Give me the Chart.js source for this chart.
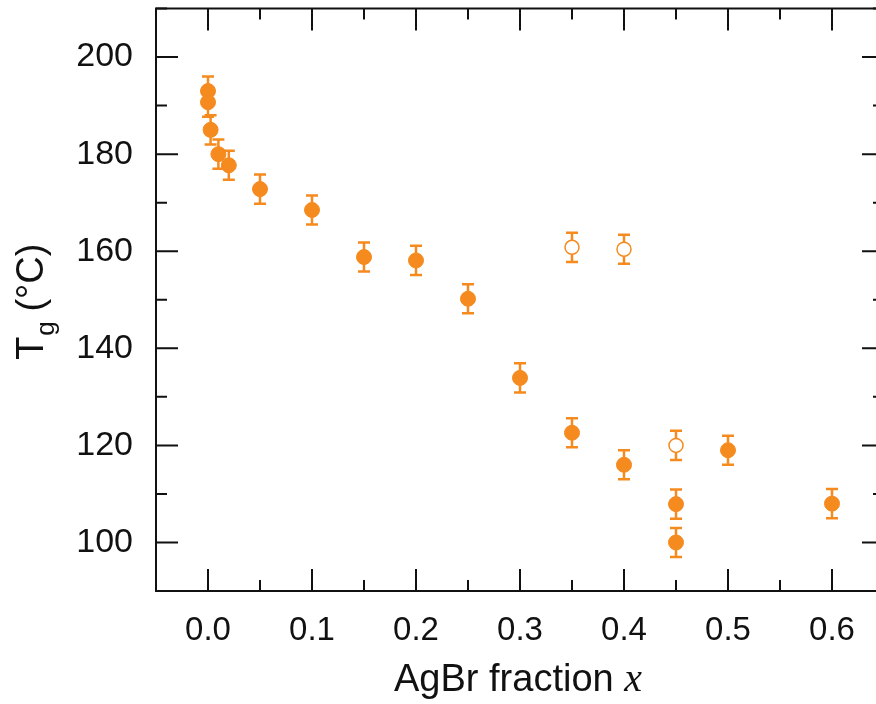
<!DOCTYPE html>
<html>
<head>
<meta charset="utf-8">
<script src="https://cdn.jsdelivr.net/npm/chart.js@4.4.0/dist/chart.umd.min.js"></script>
<style>
  html, body { margin: 0; padding: 0; background: #fff; overflow: hidden; }
  #wrap { width: 900px; height: 704px; }
</style>
</head>
<body>
<div id="wrap"><canvas id="tg"></canvas></div>
<script>
// AgBr fraction vs glass transition temperature
var xFilled   = [0, 0, 0.0025, 0.01, 0.02, 0.05, 0.1, 0.15, 0.2, 0.25, 0.3, 0.35, 0.4, 0.45, 0.45, 0.5, 0.6];
var tgFilled  = [193, 190.7, 185, 180, 177.7, 172.8, 168.5, 158.8, 158.1, 150.2, 133.9, 122.6, 116, 107.9, 100, 119, 108];
var errFilled = [3, 3, 3, 3, 3, 3, 3, 3, 3, 3, 3, 3, 3, 3, 3, 3, 3];

var xOpen   = [0.35, 0.4, 0.45];
var tgOpen  = [160.8, 160.4, 120];
var errOpen = [3, 3, 3];

var xTicks = [0, 0.1, 0.2, 0.3, 0.4, 0.5, 0.6];
var yTicks = [100, 120, 140, 160, 180, 200];
var xMinor = [-0.05, 0.05, 0.15, 0.25, 0.35, 0.45, 0.55, 0.65];
var yMinor = [90, 110, 130, 150, 170, 190, 210];

var orange = '#f58a1f';

function pts(xs, ys, es) {
  return xs.map(function (x, i) { return { x: x, y: ys[i], err: es[i] }; });
}

var errorBars = {
  id: 'errorBars',
  beforeDatasetsDraw: function (chart) {
    var ctx = chart.ctx, xs = chart.scales.x, ys = chart.scales.y;
    ctx.save();
    ctx.strokeStyle = orange;
    ctx.lineWidth = 2.5;
    chart.data.datasets.forEach(function (ds) {
      ds.data.forEach(function (p) {
        var px = xs.getPixelForValue(p.x);
        var top = ys.getPixelForValue(p.y + p.err);
        var bot = ys.getPixelForValue(p.y - p.err);
        ctx.beginPath();
        ctx.moveTo(px, top); ctx.lineTo(px, bot);
        ctx.moveTo(px - 6, top); ctx.lineTo(px + 6, top);
        ctx.moveTo(px - 6, bot); ctx.lineTo(px + 6, bot);
        ctx.stroke();
      });
    });
    ctx.restore();
  }
};

var frame = {
  id: 'frame',
  afterDraw: function (chart) {
    var ctx = chart.ctx, a = chart.chartArea, xs = chart.scales.x, ys = chart.scales.y;
    ctx.save();
    ctx.strokeStyle = '#111';
    ctx.lineWidth = 2;
    ctx.strokeRect(a.left, a.top, a.right - a.left, a.bottom - a.top);
    ctx.beginPath();
    function xt(v, len) {
      var px = xs.getPixelForValue(v);
      ctx.moveTo(px, a.bottom); ctx.lineTo(px, a.bottom - len);
      ctx.moveTo(px, a.top); ctx.lineTo(px, a.top + len);
    }
    function yt(v, len) {
      var py = ys.getPixelForValue(v);
      ctx.moveTo(a.left, py); ctx.lineTo(a.left + len, py);
      ctx.moveTo(a.right, py); ctx.lineTo(a.right - len, py);
    }
    xTicks.forEach(function (v) { xt(v, 22); });
    xMinor.forEach(function (v) { xt(v, 11); });
    yTicks.forEach(function (v) { yt(v, 22); });
    yMinor.forEach(function (v) { yt(v, 11); });
    ctx.stroke();

    // axis titles
    ctx.fillStyle = '#111';
    ctx.textBaseline = 'alphabetic';
    var f1 = '38px "Liberation Sans", Arial, sans-serif';
    var f2 = 'italic 40px "Liberation Serif", "Times New Roman", serif';
    ctx.font = f1;
    var w1 = ctx.measureText('AgBr fraction ').width;
    ctx.font = f2;
    var w2 = ctx.measureText('x').width;
    var cx = 518;
    var sx = cx - (w1 + w2) / 2;
    ctx.font = f1;
    ctx.textAlign = 'left';
    ctx.fillText('AgBr fraction ', sx, 691);
    ctx.font = f2;
    ctx.fillText('x', sx + w1, 691);

    // y title rotated
    var fy = '38px "Liberation Sans", Arial, sans-serif';
    var fs = '26px "Liberation Sans", Arial, sans-serif';
    ctx.font = fy;
    var wT = ctx.measureText('T').width;
    var wR = ctx.measureText(' (\u00B0C)').width;
    ctx.font = fs;
    var wg = ctx.measureText('g').width;
    var total = wT + wg + wR;
    ctx.translate(43, (a.top + a.bottom) / 2 + 2);
    ctx.rotate(-Math.PI / 2);
    var s = -total / 2;
    ctx.font = fy;
    ctx.fillText('T', s, 0);
    ctx.font = fs;
    ctx.fillText('g', s + wT + 1, 11);
    ctx.font = fy;
    ctx.fillText(' (\u00B0C)', s + wT + wg, 0);
    ctx.restore();
  }
};

function noPad(s) {
  s.paddingTop = 0; s.paddingBottom = 0; s.paddingLeft = 0; s.paddingRight = 0;
}

new Chart(document.getElementById('tg').getContext('2d'), {
  type: 'scatter',
  data: {
    datasets: [{
      label: 'filled',
      data: pts(xFilled, tgFilled, errFilled),
      pointRadius: 7.5,
      pointHoverRadius: 7.5,
      pointBackgroundColor: orange,
      pointBorderColor: orange,
      pointBorderWidth: 1
    }, {
      label: 'open',
      data: pts(xOpen, tgOpen, errOpen),
      pointRadius: 7,
      pointHoverRadius: 7,
      pointBackgroundColor: '#fff',
      pointBorderColor: orange,
      pointBorderWidth: 1.5
    }]
  },
  options: {
    responsive: true,
    maintainAspectRatio: false,
    animation: false,
    layout: { padding: { top: 4, right: 16, left: 0, bottom: 0 } },
    plugins: { legend: { display: false }, tooltip: { enabled: false } },
    scales: {
      x: {
        type: 'linear',
        min: -0.05, max: 0.65,
        grid: { display: false, drawTicks: false },
        border: { display: false },
        afterBuildTicks: function (s) { s.ticks = xTicks.map(function (v) { return { value: v }; }); },
        afterFit: function (s) { s.height = 113; noPad(s); },
        ticks: {
          padding: 20,
          color: '#111',
          font: { family: '"Liberation Sans", Arial, sans-serif', size: 33 },
          callback: function (v) { return Number(v).toFixed(1); }
        }
      },
      y: {
        min: 90, max: 210,
        grid: { display: false, drawTicks: false },
        border: { display: false },
        afterBuildTicks: function (s) { s.ticks = yTicks.map(function (v) { return { value: v }; }); },
        afterFit: function (s) { s.width = 156; noPad(s); },
        ticks: {
          padding: 23,
          color: '#111',
          font: { family: '"Liberation Sans", Arial, sans-serif', size: 34 }
        }
      }
    }
  },
  plugins: [errorBars, frame]
});
</script>
</body>
</html>
